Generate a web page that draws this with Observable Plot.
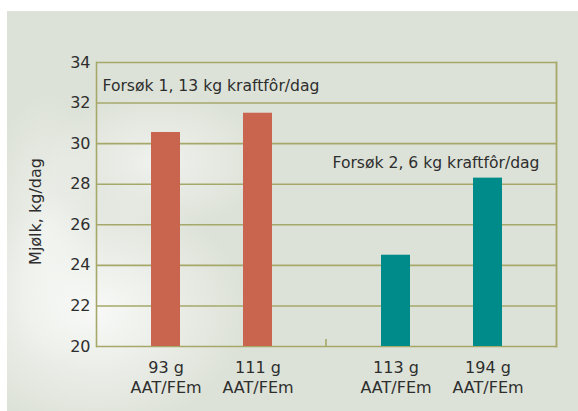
<!DOCTYPE html>
<html><head><meta charset="utf-8">
<script src="https://cdn.jsdelivr.net/npm/d3@7"></script>
<script src="https://cdn.jsdelivr.net/npm/@observablehq/plot@0.6"></script>
<style>
body{margin:0;background:#fff;}
#wrap{position:relative;width:578px;height:411px;overflow:hidden;}
#bg{position:absolute;left:7px;top:11px;right:0;bottom:0;
 background:
  radial-gradient(ellipse 150px 120px at 90px 300px, rgba(255,255,255,0.8), rgba(255,255,255,0) 100%),
  radial-gradient(ellipse 110px 70px at 150px 150px, rgba(255,255,255,0.55), rgba(255,255,255,0) 100%),
  radial-gradient(ellipse 60px 140px at 40px 220px, rgba(255,255,255,0.5), rgba(255,255,255,0) 100%),
  #dde2d8;}
#chart{position:absolute;left:0;top:0;}
</style></head><body>
<div id="wrap"><div id="bg"></div><div id="chart"></div></div>
<script>
// ---- data ----
const groups = ["Forsøk 1", "Forsøk 2"];
const groupColors = ["#c9654f", "#008b8b"];
const barGroup = ["Forsøk 1", "Forsøk 1", "Forsøk 2", "Forsøk 2"];
const barSlot = [0, 1, 0, 1];
const barLabels = ["93 g\nAAT/FEm", "111 g\nAAT/FEm", "113 g\nAAT/FEm", "194 g\nAAT/FEm"];
const milk = [30.55, 31.5, 24.5, 28.3];
const yTicks = [20, 22, 24, 26, 28, 30, 32, 34];
const yLabel = ["Mjølk, kg/dag"];
const annotationText = ["Forsøk 1, 13 kg kraftfôr/dag", "Forsøk 2, 6 kg kraftfôr/dag"];
const annotationY = [32.85, 29.05];

const bars = milk.map((v, i) => ({group: barGroup[i], slot: barSlot[i], label: barLabels[i], milk: v}));
const notes = annotationText.map((t, i) => ({group: groups[i], text: t, y: annotationY[i]}));

const gridColor = "#a6a86a";
const textColor = "#2e2e2e";
const font = "'DejaVu Sans', sans-serif";

const chart = Plot.plot({
  width: 578, height: 411,
  marginLeft: 96, marginTop: 62, marginRight: 22, marginBottom: 65,
  style: {background: "transparent", fontFamily: font, fontSize: "16px", color: textColor},
  fx: {domain: groups, padding: 0, axis: null},
  x: {type: "band", domain: [0, 1], paddingInner: 0.688, paddingOuter: 0.581, axis: null},
  y: {domain: [20, 34], axis: null},
  color: {domain: groups, range: groupColors},
  marks: [
    Plot.ruleY(yTicks, {stroke: gridColor, strokeWidth: 1.6}),
    Plot.frame({anchor: "left", facetAnchor: "left", stroke: gridColor, strokeWidth: 1.6}),
    Plot.frame({anchor: "right", facetAnchor: "right", stroke: gridColor, strokeWidth: 1.8}),
    Plot.barY(bars, {fx: "group", x: "slot", y1: 20, y2: "milk", fill: "group"}),
    Plot.axisY(yTicks, {tickSize: 0, tickPadding: 6, fontSize: 16, fill: textColor, label: null}),
    Plot.text(yLabel, {frameAnchor: "left", facetAnchor: "left", rotate: -90, textAnchor: "middle",
      dx: -61, dy: 7, fontSize: 16, fill: textColor}),
    Plot.text(bars, {fx: "group", x: "slot", y: 20, text: "label", dy: 12, lineAnchor: "top",
      lineHeight: 1.25, fontSize: 16, fill: textColor}),
    Plot.text(notes, {fx: "group", y: "y", text: "text", frameAnchor: "left", textAnchor: "start",
      dx: 6, fontSize: 15.6, fill: textColor})
  ]
});
document.getElementById("chart").appendChild(chart);

// small separator tick on the baseline between the two trials
const fxs = chart.scale("fx"), ys = chart.scale("y");
const sx = fxs.apply(groups[1]);
const y0 = ys.apply(20);
d3.select(chart).append("line")
  .attr("x1", sx).attr("x2", sx).attr("y1", y0).attr("y2", y0 - 7)
  .attr("stroke", gridColor).attr("stroke-width", 1.6);
</script>
</body></html>
